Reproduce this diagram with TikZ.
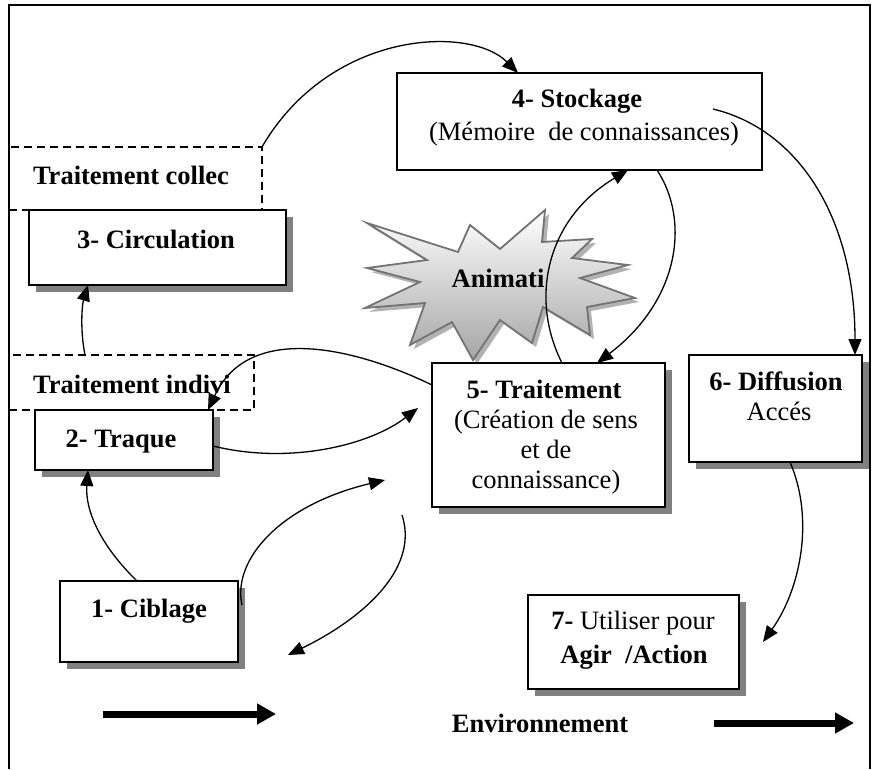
\documentclass[tikz,border=0pt]{standalone}
\usepackage{fontspec}
\setmainfont{Liberation Serif}
\usetikzlibrary{arrows.meta,shadows}
\begin{document}
\begin{tikzpicture}[x=1pt,y=-1pt,
  txt/.style={font=\fontsize{26.5}{30}\selectfont, inner sep=0pt, anchor=base},
  bx/.style={draw, line width=1.4pt, fill=white, inner sep=0pt, outer sep=0pt, anchor=north west},
  sbx/.style={bx, drop shadow={shadow xshift=7pt, shadow yshift=-7pt, fill=black!50, opacity=1}},
  dbx/.style={draw, line width=1.8pt, dash pattern=on 8pt off 5pt, inner sep=0pt, outer sep=0pt, anchor=north west},
  conn/.style={line width=1.3pt, -{Triangle[length=16pt,width=13pt]}},
  bigarrow/.style={line width=7pt, -{Triangle[length=19pt,width=20pt]}}
]
\useasboundingbox (0,0) rectangle (873,769);

% frame
\draw[line width=1.4pt] (9,769) -- (9,5) -- (870,5) -- (870,769);

% starburst
\def\starpathA{(367,223) -- (458,252) -- (470,225) -- (500,249) -- (545,210) -- (542,242) -- (592,239) -- (572,258) -- (628,265) -- (580,278) -- (635,298) -- (587,307) -- (590,335) -- (543,307) -- (532,343) -- (500,320) -- (473,360) -- (452,322) -- (410,345) -- (425,303) -- (365,308) -- (420,282) -- (367,268) -- (427,260) -- cycle}
\fill[black!30, xshift=4pt, yshift=-4pt] \starpathA;
\shade[top color=white, bottom color=black!35, draw=black!55, line width=1.8pt, line join=miter] \starpathA;
\node[txt] (anim) at (498,287) {\bfseries Animati};

% boxes
\node[bx, minimum width=365pt, minimum height=97pt] (stock) at (397,73) {};
\node[sbx, minimum width=257pt, minimum height=75pt] (circ) at (29,210) {};
\node[sbx, minimum width=178pt, minimum height=60pt] (traque) at (35,410) {};
\node[sbx, minimum width=233pt, minimum height=144pt] (trait) at (432,363) {};
\node[sbx, minimum width=173pt, minimum height=107pt] (diff) at (689,355) {};
\node[sbx, minimum width=178pt, minimum height=81pt] (cib) at (60,581) {};
\node[sbx, minimum width=211pt, minimum height=94pt] (util) at (528,595) {};
\node[dbx, minimum width=253pt, minimum height=63pt] (tc) at (9,147) {};
\node[dbx, minimum width=245pt, minimum height=55pt] (ti) at (9,355) {};

% texts
\node[txt] (tctext) at (131,184) {\bfseries Traitement collec};
\node[txt] (circtext) at (156,248) {\bfseries 3- Circulation};
\node[txt] (stocktext) at (577,107) {\bfseries 4- Stockage};
\node[txt] (stocktextb) at (584,140) {(Mémoire\ \ de connaissances)};
\node[txt] (titext) at (132,393) {\bfseries Traitement indivi};
\node[txt] (traquetext) at (121,447) {\bfseries 2- Traque};
\node[txt] (traittext) at (544,398) {\bfseries 5- Traitement};
\node[txt] (traittextb) at (546,428) {(Création de sens};
\node[txt] (traittextc) at (546,458) {et de};
\node[txt] (traittextd) at (546,488) {connaissance)};
\node[txt] (difftext) at (776,390) {\bfseries 6- Diffusion};
\node[txt] (difftextb) at (779,420) {Accés};
\node[txt] (cibtext) at (149,617) {\bfseries 1- Ciblage};
\node[txt] (utiltext) at (633,629) {\textbf{7-} Utiliser pour};
\node[txt] (utiltextb) at (634,663) {\bfseries Agir\ \ /Action};
\node[txt] (envtext) at (540,732) {\bfseries Environnement};

% free ends
\coordinate (e5) at (418,408);
\coordinate (e6) at (385,480);
\coordinate (s7) at (402,515);
\coordinate (e7) at (288,655);
\coordinate (e10) at (763,642);
\coordinate (la) at (103,714);
\coordinate (lb) at (276,714);
\coordinate (ra) at (714,723);
\coordinate (rb) at (854,723);

% connectors
\draw[conn] (tc.north east) .. controls (330,30) and (470,25) .. ([xshift=121pt]stock.north west);
\draw[conn] ([xshift=-49pt,yshift=-36pt]stock.north east) .. controls (800,130) and (855,220) .. ([xshift=-7pt]diff.north east);
\draw[conn] ([xshift=130pt]trait.north west) .. controls (530,300) and (545,220) .. ([xshift=231pt]stock.south west);
\draw[conn] ([xshift=260pt]stock.south west) .. controls (690,220) and (680,300) .. ([xshift=165pt]trait.north west);
\draw[conn] ([yshift=-22pt]trait.north west) .. controls (360,350) and (250,320) .. ([xshift=-5pt]traque.north east);
\draw[conn] ([yshift=-36pt]traque.north east) .. controls (290,465) and (370,445) .. (e5);
\draw[conn] ([xshift=4pt,yshift=-24pt]cib.north east) .. controls (232,560) and (280,505) .. (e6);
\draw[conn] (s7) .. controls (420,570) and (360,620) .. (e7);
\draw[conn] ([xshift=77pt]cib.north west) .. controls (100,545) and (85,510) .. ([xshift=53pt]traque.south west);
\draw[conn] ([xshift=76pt]ti.north west) .. controls (80,330) and (82,305) .. ([xshift=59pt]circ.south west);
\draw[conn] ([xshift=101pt]diff.south west) .. controls (815,520) and (800,590) .. (e10);

% environment arrows
\draw[bigarrow] (la) -- (lb);
\draw[bigarrow] (ra) -- (rb);
\end{tikzpicture}
\end{document}
